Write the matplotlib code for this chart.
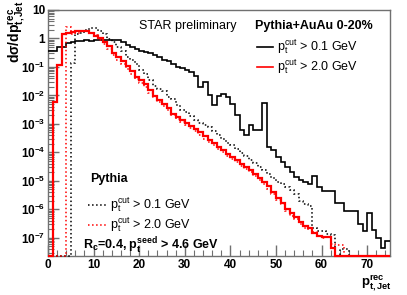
import numpy as np
import matplotlib.pyplot as plt
from matplotlib.lines import Line2D
from matplotlib.ticker import FixedLocator, LogLocator, MultipleLocator, FuncFormatter, NullFormatter

plt.rcParams['font.family'] = ['Liberation Sans', 'DejaVu Sans']
plt.rcParams['mathtext.fontset'] = 'custom'
plt.rcParams['mathtext.rm'] = 'Liberation Sans'
plt.rcParams['mathtext.it'] = 'Liberation Sans:italic'
plt.rcParams['mathtext.bf'] = 'Liberation Sans:bold'

# 1 GeV bins from 0 to 75 GeV
bin_lo = 0
bin_width = 1

# Pythia+AuAu 0-20%, p_t cut > 0.1 GeV (black solid)
auau_01 = [0.35, 0.35, 0.5, 0.5, 0.7, 0.75, 0.8, 0.8, 0.85, 0.8,
           0.85, 0.9, 0.85, 0.9, 0.9, 0.85, 0.75, 0.6, 0.5, 0.42,
           0.37, 0.34, 0.3, 0.26, 0.22, 0.18, 0.16, 0.13, 0.1, 0.09,
           0.08, 0.065, 0.05, 0.02, 0.03, 0.01, 0.0045, 0.0095, 0.011, 0.0085,
           0.005, 0.002, 6e-4, 4e-4, 9e-4, 6e-4, 6e-4, 5.5e-3, 1.5e-4, 1.2e-4,
           7e-5, 4.5e-5, 3e-5, 2e-5, 1.4e-5, 1.1e-5, 9e-6, 8e-6, 1.5e-5, 6e-6,
           4.5e-6, 4.3e-6, 4.3e-6, 1.7e-6, 1.7e-6, 8.6e-7, 9e-7, 8.5e-7, 3e-7, 1.7e-7,
           7.5e-7, 1.9e-7, 1e-7, 4.5e-8, 7.5e-8]

# Pythia+AuAu 0-20%, p_t cut > 2.0 GeV (red solid)
auau_20 = [0, 6e-3, 0.12, 1.4, 1.5, 1.7, 1.8, 1.9, 1.8, 1.5,
           1.2, 1.0, 0.75, 0.55, 0.3, 0.22, 0.16, 0.11, 0.075, 0.045,
           0.035, 0.025, 0.015, 0.0098, 0.0068, 0.005, 0.0035, 0.0023, 0.0018, 0.0014,
           0.0011, 8.5e-4, 6.5e-4, 5e-4, 3.7e-4, 2.8e-4, 2.2e-4, 1.6e-4, 1.2e-4, 9e-5,
           7e-5, 5.3e-5, 4e-5, 3.1e-5, 2.4e-5, 1.8e-5, 1.3e-5, 9e-6, 6.5e-6, 4e-6,
           2.5e-6, 1.7e-6, 1e-6, 7.5e-7, 5.5e-7, 3.5e-7, 2.5e-7, 2.2e-7, 1.5e-7, 1.2e-7,
           1.1e-7, 1.1e-7, 4.5e-8, 0, 0, 0, 0, 0, 0, 0,
           0, 0, 0, 0, 0]

# Pythia, p_t cut > 0.1 GeV (black dotted)
pythia_01 = [0, 0, 0, 0, 0, 0.14, 1.4, 1.6, 2.0, 2.4,
             2.3, 1.9, 1.4, 0.95, 0.75, 0.5, 0.35, 0.23, 0.17, 0.125,
             0.08, 0.055, 0.035, 0.022, 0.017, 0.014, 0.009, 0.0072, 0.0048, 0.0032,
             0.0026, 0.0019, 0.0014, 0.0011, 9e-4, 7.5e-4, 5.5e-4, 4e-4, 3e-4, 2.2e-4,
             1.8e-4, 1.3e-4, 9.5e-5, 7.5e-5, 5.5e-5, 4.2e-5, 3e-5, 2.4e-5, 1.8e-5, 1.3e-5,
             9.5e-6, 8e-6, 6e-6, 4.8e-6, 3.5e-6, 2e-6, 1.5e-6, 1.3e-6, 2.3e-7, 1.8e-7,
             1.7e-7, 1.4e-7, 1.3e-7, 0, 4e-8, 4e-8, 0, 0, 0, 0,
             0, 0, 0, 0, 0]

# Pythia, p_t cut > 2.0 GeV (red dotted)
pythia_20 = [0, 0, 0, 0, 2.5, 1.4, 1.6, 1.9, 1.8, 1.6,
             1.3, 0.9, 0.65, 0.42, 0.26, 0.18, 0.13, 0.085, 0.055, 0.038,
             0.028, 0.02, 0.012, 0.0085, 0.006, 0.0042, 0.003, 0.0021, 0.0015, 0.0012,
             9e-4, 7e-4, 5.5e-4, 4.2e-4, 3e-4, 2.4e-4, 1.8e-4, 1.35e-4, 1e-4, 7.5e-5,
             6e-5, 4.5e-5, 3.4e-5, 2.6e-5, 2e-5, 1.5e-5, 1.1e-5, 8e-6, 5e-6, 3.5e-6,
             2.2e-6, 1.5e-6, 9e-7, 6e-7, 4.5e-7, 3e-7, 2.2e-7, 2e-7, 1.6e-7, 1.2e-7,
             1e-7, 1.1e-7, 6e-8, 5.5e-8, 5.5e-8, 0, 0, 0, 0, 0,
             0, 0, 0, 0, 0]

ymin, ymax = 2.3e-8, 10
W, H = 407, 295


def fpos(x, y):
    # pixel position -> figure fraction
    return x / W, 1 - y / H


fig = plt.figure(figsize=(W / 100, H / 100), dpi=100)
ax = fig.add_axes([48 / W, 1 - 256 / H, (390 - 48) / W, (256 - 10) / H])

edges = bin_lo + bin_width * np.arange(len(auau_01) + 1)
series = [
    (auau_01, 'black', '-', 1.2),
    (pythia_01, 'black', ':', 1.1),
    (pythia_20, 'red', ':', 1.1),
    (auau_20, 'red', '-', 1.6),
]
for vals, col, ls, lw in series:
    v = np.maximum(np.array(vals, dtype=float), ymin)  # empty bins sit on the axis floor
    ax.stairs(v, edges, color=col, linestyle=ls, linewidth=lw, baseline=None,
              zorder=3, clip_on=False)

ax.set_yscale('log')
ax.set_xlim(0, 75)
ax.set_ylim(ymin, ymax)

frame_col = '#707070'
for side in ['left', 'right', 'top', 'bottom']:
    ax.spines[side].set_color(frame_col)
    ax.spines[side].set_linewidth(1.0)

ax.xaxis.set_major_locator(MultipleLocator(10))
ax.xaxis.set_minor_locator(MultipleLocator(2))
ax.yaxis.set_major_locator(FixedLocator(10.0 ** np.arange(-7, 2)))
ax.yaxis.set_minor_locator(LogLocator(base=10, subs=np.arange(2, 10), numticks=20))
ax.yaxis.set_minor_formatter(NullFormatter())


def ylab(v, pos):
    e = int(round(np.log10(v)))
    if e == 1:
        return '10'
    if e == 0:
        return '1'
    return r'$\mathbf{10^{%d}}$' % e


ax.yaxis.set_major_formatter(FuncFormatter(ylab))
ax.tick_params(which='both', direction='in', color=frame_col, top=False, right=False)
ax.tick_params(which='major', length=8, width=1, pad=2, labelsize=8.5)
ax.tick_params(which='minor', length=4, width=0.8)
for lab in ax.get_xticklabels() + ax.get_yticklabels():
    lab.set_fontweight('bold')

# axis titles
fig.text(*fpos(17, 1), r'$\mathbf{d\sigma/dp^{rec}_{t,Jet}}$', rotation=90,
         ha='center', va='top', fontsize=10)
fig.text(*fpos(392, 293), r'$\mathbf{p^{rec}_{t,Jet}}$', ha='right', va='bottom', fontsize=9.5)

fig.text(*fpos(139, 26), 'STAR preliminary', ha='left', va='center', fontsize=9)

# legend: Pythia+AuAu
fig.text(*fpos(255, 26), 'Pythia+AuAu 0-20%', ha='left', va='center',
         fontsize=9, fontweight='bold')
for yy, col, ls, lw, txt in [(47, 'black', '-', 1.2, '0.1'), (67, 'red', '-', 1.2, '2.0')]:
    x0, y0 = fpos(257, yy)
    x1, _ = fpos(273, yy)
    fig.add_artist(Line2D([x0, x1], [y0, y0], color=col, linestyle=ls, linewidth=lw,
                          transform=fig.transFigure))
    fig.text(*fpos(277, yy), r'$\mathregular{p_t^{cut}}$ > %s GeV' % txt,
             ha='left', va='center', fontsize=9)

# legend: Pythia
fig.text(*fpos(90, 179), 'Pythia', ha='left', va='center', fontsize=9, fontweight='bold')
for yy, col, txt in [(205, 'black', '0.1'), (225, 'red', '2.0')]:
    x0, y0 = fpos(88, yy)
    x1, _ = fpos(107, yy)
    fig.add_artist(Line2D([x0, x1], [y0, y0], color=col, linestyle=':', linewidth=1.1,
                          transform=fig.transFigure))
    fig.text(*fpos(110, yy), r'$\mathregular{p_t^{cut}}$ > %s GeV' % txt,
             ha='left', va='center', fontsize=9)

fig.text(*fpos(83, 246), r'$\mathbf{R_c}$=0.4, $\mathbf{p_t^{seed}}$ > 4.6 GeV',
         ha='left', va='center', fontsize=9, fontweight='bold')

fig.savefig('out.png', dpi=100)
